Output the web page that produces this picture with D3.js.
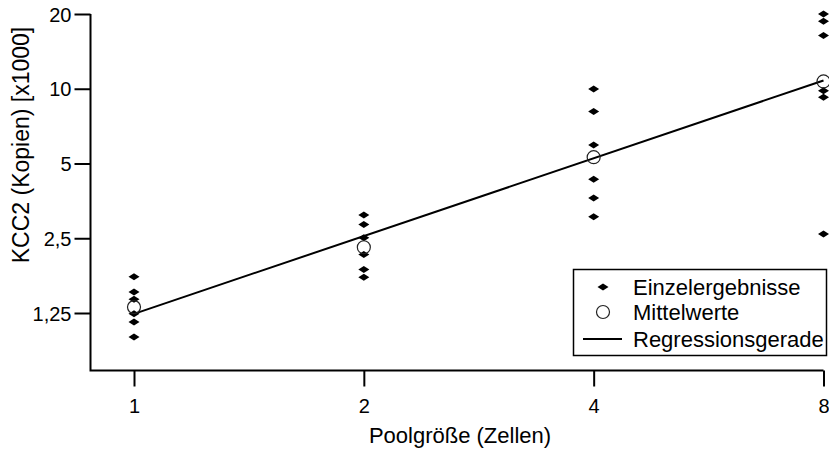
<!DOCTYPE html>
<html>
<head>
<meta charset="utf-8">
<script src="https://cdn.jsdelivr.net/npm/d3@7"></script>
<style>
  html, body { margin: 0; padding: 0; background: #fff; }
  svg { display: block; }
  text { font-family: "Liberation Sans", Arial, Helvetica, sans-serif; fill: #000; }
</style>
</head>
<body>
<svg id="chart" width="829" height="450"></svg>
<script>
// ---- data ----
const poolSizes = [1, 2, 4, 8];
const xTickLabels = ["1", "2", "4", "8"];
const yTickValues = [1.25, 2.5, 5, 10, 20];
const yTickLabels = ["1,25", "2,5", "5", "10", "20"];
const single1 = [1.75, 1.52, 1.42, 1.24, 1.15, 1.00];
const single2 = [3.10, 2.84, 2.51, 2.15, 1.87, 1.74];
const single4 = [9.98, 8.09, 5.93, 4.32, 3.63, 3.05];
const single8 = [20.0, 18.7, 16.4, 9.82, 9.24, 2.60];
const meanValues = [1.32, 2.30, 5.30, 10.7];
const regressionX = [1, 8];
const regressionY = [1.24, 10.8];
const legendLabels = ["Einzelergebnisse", "Mittelwerte", "Regressionsgerade"];
const xTitle = "Poolgröße (Zellen)";
const yTitle = "KCC2 (Kopien) [x1000]";

const singles = [single1, single2, single4, single8];

// ---- layout ----
const svg = d3.select("#chart");
const axisX = 90.5, axisBottom = 370.5;
const x = d3.scaleLog().base(2).domain([1, 8]).range([134, 823.5]);
const y = d3.scaleLog().base(2).domain([1.25, 20]).range([313, 14]);
const tickFont = 20, labelFont = 22;

// axes (L-shaped frame)
svg.append("path")
  .attr("d", `M${axisX},${y(20)}V${axisBottom}H${x(8)}`)
  .attr("fill", "none").attr("stroke", "#000").attr("stroke-width", 2);

// y axis
const gy = svg.append("g").attr("transform", `translate(${axisX},0)`)
  .call(d3.axisLeft(y).tickValues(yTickValues)
    .tickFormat((d, i) => yTickLabels[i]).tickSize(16).tickSizeOuter(0).tickPadding(3));
gy.select(".domain").remove();
gy.selectAll(".tick line").attr("stroke", "#000").attr("stroke-width", 2);
gy.selectAll(".tick text").attr("font-size", tickFont).attr("font-family", "Liberation Sans, Arial, sans-serif").attr("dy", "0.36em");

// x axis
const gx = svg.append("g").attr("transform", `translate(0,${axisBottom})`)
  .call(d3.axisBottom(x).tickValues(poolSizes)
    .tickFormat((d, i) => xTickLabels[i]).tickSize(16).tickSizeOuter(0).tickPadding(12));
gx.select(".domain").remove();
gx.selectAll(".tick line").attr("stroke", "#000").attr("stroke-width", 2);
gx.selectAll(".tick text").attr("font-size", tickFont).attr("font-family", "Liberation Sans, Arial, sans-serif");

// titles
svg.append("text").attr("x", 460).attr("y", 443)
  .attr("text-anchor", "middle").attr("font-size", labelFont).text(xTitle);
svg.append("text").attr("transform", `translate(29,145) rotate(-90)`)
  .attr("text-anchor", "middle").attr("font-size", 23).text(yTitle);

// regression line
svg.append("line")
  .attr("x1", x(regressionX[0])).attr("y1", y(regressionY[0]))
  .attr("x2", x(regressionX[1])).attr("y2", y(regressionY[1]))
  .attr("stroke", "#000").attr("stroke-width", 2);

// single points (diamonds)
const diamond = "M-5.5,0L0,-3.5L5.5,0L0,3.5Z";
const pts = [];
singles.forEach((arr, i) => arr.forEach(v => pts.push({x: poolSizes[i], v})));
svg.append("g").selectAll("path").data(pts).join("path")
  .attr("d", diamond)
  .attr("transform", d => `translate(${x(d.x)},${y(d.v)})`)
  .attr("fill", "#000");

// means (open circles)
svg.append("g").selectAll("circle").data(meanValues).join("circle")
  .attr("cx", (d, i) => x(poolSizes[i])).attr("cy", d => y(d))
  .attr("r", 6.5).attr("fill", "none").attr("stroke", "#222").attr("stroke-width", 1.2);

// legend
const lg = svg.append("g");
lg.append("rect").attr("x", 573.5).attr("y", 269.5).attr("width", 253).attr("height", 86)
  .attr("fill", "#fff").attr("stroke", "#000").attr("stroke-width", 1.5);
const rowY = [287, 312, 339];
lg.append("path").attr("d", diamond).attr("transform", `translate(603,${rowY[0]})`).attr("fill", "#000");
lg.append("circle").attr("cx", 603).attr("cy", rowY[1]).attr("r", 6.5)
  .attr("fill", "none").attr("stroke", "#222").attr("stroke-width", 1.2);
lg.append("line").attr("x1", 583).attr("x2", 622).attr("y1", rowY[2]).attr("y2", rowY[2])
  .attr("stroke", "#000").attr("stroke-width", 2);
lg.selectAll("text").data(legendLabels).join("text")
  .attr("x", 633).attr("y", (d, i) => rowY[i]).attr("dy", "0.36em")
  .attr("font-size", labelFont).text(d => d);
</script>
</body>
</html>
